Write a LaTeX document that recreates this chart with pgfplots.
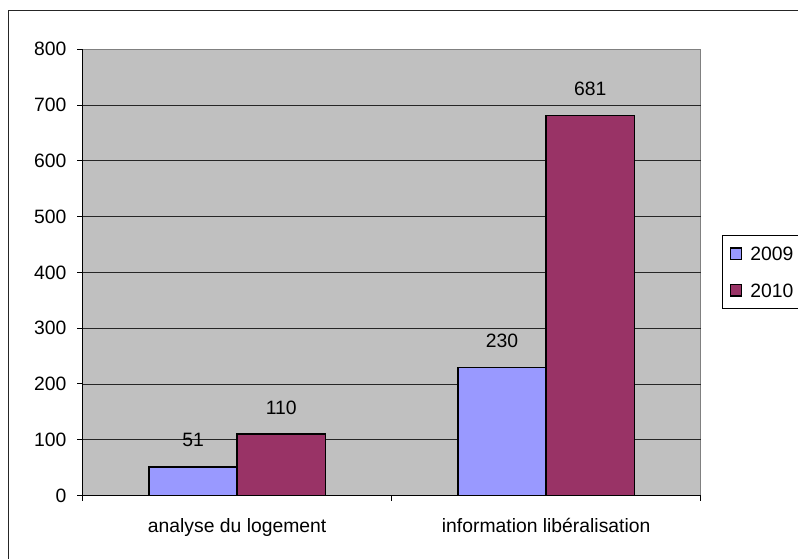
\documentclass[border=0pt]{standalone}
\usepackage{pgfplots}
\pgfplotsset{compat=1.18}
\usepackage{fontspec}
\setmainfont{Liberation Sans}
\definecolor{bgray}{HTML}{C0C0C0}
\definecolor{bordergray}{HTML}{808080}
\definecolor{c2009}{HTML}{9999FF}
\definecolor{c2010}{HTML}{993366}
\newcommand\cf{\fontsize{14.5pt}{17pt}\selectfont}
\begin{document}
\begin{tikzpicture}
\useasboundingbox (0,0) rectangle (598.5pt,419.25pt);
\clip (0,0) rectangle (598.5pt,419.25pt);
\draw[black!85, line width=0.9pt] (6.4pt,-10pt) -- (6.4pt,411.4pt) -- (620pt,411.4pt);
\begin{axis}[
 at={(62pt,47.6pt)}, anchor=south west,
 scale only axis, width=463.5pt, height=334.65pt,
 ybar=0pt, bar width=0.2857,
 xmin=-0.5, xmax=1.5, ymin=0, ymax=800,
 xtick={0,1}, xticklabels={analyse du logement, information libéralisation},
 ytick={0,100,...,800},
 minor ytick={100,200,...,700},
 yminorgrids, minor grid style={black!85, line width=0.6pt},
 minor tick length=0pt,
 major tick length=0pt,
 extra x ticks={-0.5,0.5,1.5}, extra x tick labels={},
 extra x tick style={major tick length=3.75pt, tick align=outside, grid=none},
 extra y ticks={0,100,...,800}, extra y tick labels={},
 extra y tick style={major tick length=4pt, tick align=outside, grid=none},
 tick style={black, line width=0.75pt},
 axis x line=bottom, axis y line=left,
 axis line style={-, black, line width=1pt},
 axis background/.style={fill=bgray, draw=bordergray, line width=0.75pt},
 /pgf/number format/assume math mode=true,
 ticklabel style={font=\cf},
 yticklabel style={anchor=east, inner sep=0pt, xshift=-12pt},
 xticklabel style={anchor=base, inner sep=0pt, yshift=-27.6pt},
 nodes near coords, nodes near coords style={font=\cf, anchor=center, yshift=20pt, black},
 legend image code/.code={\draw[#1, draw=black, line width=1pt] (0pt,-4.25pt) rectangle (8.5pt,4.25pt); \path (12.4pt,0pt);},
 legend style={at={(1.034,0.5838)}, anchor=north west, draw=black, line width=0.75pt, fill=white, font=\cf, inner xsep=5.7pt, inner ysep=6.6pt, row sep=13.3pt, nodes={inner sep=2pt, text depth=0pt}},
 legend cell align=left,
 clip=false,
]
\addplot[fill=c2009, draw=black, line width=1.1pt] coordinates {(0,51) (1,230)};
\addplot[fill=c2010, draw=black, line width=1.1pt] coordinates {(0,110) (1,681)};
\legend{2009,2010}
\end{axis}
\end{tikzpicture}
\end{document}
